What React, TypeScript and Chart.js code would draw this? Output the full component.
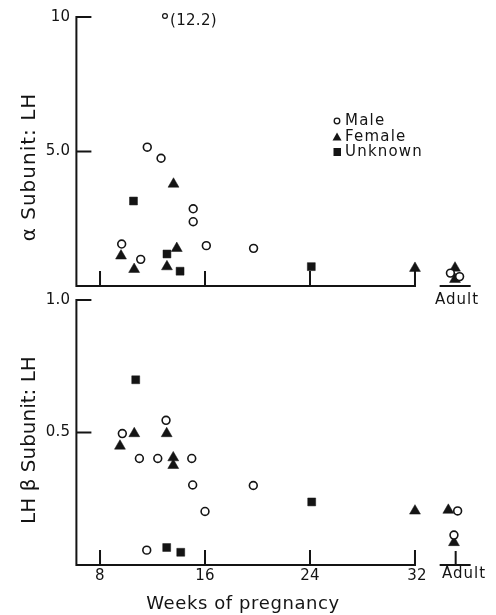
import { useEffect, useRef } from "react";
import { Chart, registerables } from "chart.js";

Chart.register(...registerables);

const FONT = '"DejaVu Sans", sans-serif';
const INK = "#141414";

// ---- shared x axis ----
const weekTicks = [8, 16, 24, 32];
const weekTickLabels = ["8", "16", "24", "32"];
const adultWeek = 35.1;
const adultLabel = "Adult";
const xTitle = "Weeks of pregnancy";
const legendLabels = ["Male", "Female", "Unknown"];

// ---- top panel: alpha subunit : LH ----
const alphaTitle = "α Subunit: LH";
const alphaTickValues = [10, 5];
const alphaTickLabels = ["10", "5.0"];
const alphaMaleWeeks = [11.6, 12.65, 15.1, 15.1, 9.65, 11.1, 16.1, 19.7, 34.7, 35.4];
const alphaMaleValues = [5.16, 4.75, 2.87, 2.39, 1.56, 0.99, 1.5, 1.4, 0.48, 0.35];
const alphaFemaleWeeks = [13.6, 9.6, 10.6, 13.85, 13.1, 32, 35.05, 35.05];
const alphaFemaleValues = [3.79, 1.12, 0.62, 1.4, 0.72, 0.66, 0.67, 0.25];
const alphaUnknownWeeks = [10.55, 13.1, 14.1, 24.1];
const alphaUnknownValues = [3.16, 1.19, 0.55, 0.72];
const offScaleWeek = 12.95;
const offScaleLabel = "(12.2)";

// ---- bottom panel: LH beta subunit : LH ----
const betaTitle = "LH β Subunit: LH";
const betaTickValues = [1, 0.5];
const betaTickLabels = ["1.0", "0.5"];
const betaMaleWeeks = [13.03, 9.7, 11.0, 12.4, 14.99, 15.06, 16.0, 11.56, 19.68, 35.25, 34.97];
const betaMaleValues = [0.546, 0.496, 0.402, 0.402, 0.402, 0.302, 0.202, 0.056, 0.3, 0.204, 0.113];
const betaFemaleWeeks = [10.61, 13.08, 9.52, 13.58, 13.58, 32, 34.54, 34.97];
const betaFemaleValues = [0.496, 0.496, 0.449, 0.405, 0.376, 0.204, 0.207, 0.085];
const betaUnknownWeeks = [10.72, 13.08, 14.15, 24.13];
const betaUnknownValues = [0.699, 0.066, 0.048, 0.238];

const toPoints = (xs: number[], ys: number[]) => xs.map((x, i) => ({ x, y: ys[i] }));

function datasets(mw: number[], mv: number[], fw: number[], fv: number[], uw: number[], uv: number[]) {
  return [
    {
      label: legendLabels[0],
      data: toPoints(mw, mv),
      pointStyle: "circle",
      pointRadius: 3.9,
      pointBorderWidth: 1.6,
      pointBackgroundColor: "#fff",
      pointBorderColor: INK,
      clip: false as const,
    },
    {
      label: legendLabels[1],
      data: toPoints(fw, fv),
      pointStyle: "triangle",
      pointRadius: 6.3,
      pointBorderWidth: 0.5,
      pointBackgroundColor: INK,
      pointBorderColor: INK,
      clip: false as const,
    },
    {
      label: legendLabels[2],
      data: toPoints(uw, uv),
      pointStyle: "rect",
      pointRadius: 5.6,
      pointBorderWidth: 0.5,
      pointBackgroundColor: INK,
      pointBorderColor: INK,
      clip: false as const,
    },
  ];
}

type Panel = {
  yMax: number;
  tickValues: number[];
  tickLabels: string[];
  title: string;
  titleX: number;
  titleY: number;
  titleSpacing: number;
  weekLabels: boolean;
  weekLabelY: number;
  adultLabelX: number;
  adultLabelY: number;
  adultTick: boolean;
  legend: boolean;
  offScale: boolean;
  xTitle: boolean;
};

function setSpacing(ctx: CanvasRenderingContext2D, px: number) {
  (ctx as any).letterSpacing = px + "px";
}

function panelPlugin(p: Panel) {
  return {
    id: "panel",
    beforeDatasetsDraw(chart: any) {
      const { ctx, chartArea: ca, scales } = chart;
      const x = scales.x;
      const y = scales.y;
      const base = y.getPixelForValue(0);
      const top = y.getPixelForValue(p.yMax);
      const left = ca.left;
      const x32 = x.getPixelForValue(32);
      const xa = x.getPixelForValue(adultWeek);
      ctx.save();
      ctx.strokeStyle = INK;
      ctx.lineWidth = 2;
      ctx.beginPath();
      ctx.moveTo(left, top - 1);
      ctx.lineTo(left, base + 1);
      ctx.moveTo(left, base);
      ctx.lineTo(x32 + 1, base);
      ctx.moveTo(xa - 16, base);
      ctx.lineTo(xa + 15, base);
      p.tickValues.forEach((v) => {
        const py = y.getPixelForValue(v);
        ctx.moveTo(left, py);
        ctx.lineTo(left + 15, py);
      });
      weekTicks.forEach((w) => {
        const px = x.getPixelForValue(w);
        ctx.moveTo(px, base);
        ctx.lineTo(px, base - 15);
      });
      if (p.adultTick) {
        ctx.moveTo(xa, base);
        ctx.lineTo(xa, base - 14);
      }
      ctx.stroke();

      ctx.fillStyle = INK;
      ctx.textBaseline = "middle";
      // y tick labels
      ctx.font = `15px ${FONT}`;
      setSpacing(ctx, 0.3);
      ctx.textAlign = "right";
      p.tickValues.forEach((v, i) => {
        ctx.fillText(p.tickLabels[i], left - 6, y.getPixelForValue(v));
      });
      // week labels
      ctx.textAlign = "center";
      if (p.weekLabels) {
        weekTicks.forEach((w, i) => {
          ctx.fillText(weekTickLabels[i], x.getPixelForValue(w) + (i === 3 ? 2 : 0), p.weekLabelY);
        });
      }
      ctx.font = `15px ${FONT}`;
      setSpacing(ctx, 1);
      ctx.fillText(adultLabel, p.adultLabelX, p.adultLabelY);

      // axis title (rotated)
      ctx.save();
      ctx.font = `20px ${FONT}`;
      setSpacing(ctx, p.titleSpacing);
      ctx.translate(p.titleX, p.titleY);
      ctx.rotate(-Math.PI / 2);
      ctx.textAlign = "center";
      ctx.fillText(p.title, 0, 0);
      ctx.restore();

      if (p.xTitle) {
        ctx.font = `18px ${FONT}`;
        setSpacing(ctx, 0.6);
        ctx.textAlign = "center";
        ctx.fillText(xTitle, 243, chart.height - 11);
      }

      if (p.offScale) {
        const ox = x.getPixelForValue(offScaleWeek);
        ctx.lineWidth = 1.2;
        ctx.beginPath();
        ctx.arc(ox, top - 1, 2.4, 0, Math.PI * 2);
        ctx.stroke();
        ctx.font = `15px ${FONT}`;
        setSpacing(ctx, 0.3);
        ctx.textAlign = "left";
        ctx.fillText(offScaleLabel, ox + 5, top + 4);
      }

      if (p.legend) {
        const lx = 337;
        const rows = [121, 137, 152];
        ctx.font = `15px ${FONT}`;
        setSpacing(ctx, 1.2);
        ctx.textAlign = "left";
        // circle
        ctx.lineWidth = 1.3;
        ctx.beginPath();
        ctx.arc(lx, rows[0], 2.8, 0, Math.PI * 2);
        ctx.stroke();
        // triangle
        ctx.beginPath();
        ctx.moveTo(lx - 4.5, rows[1] + 3.5);
        ctx.lineTo(lx + 4.5, rows[1] + 3.5);
        ctx.lineTo(lx, rows[1] - 4.5);
        ctx.closePath();
        ctx.fill();
        // square
        ctx.fillRect(lx - 3.5, rows[2] - 4, 7.5, 8);
        legendLabels.forEach((t, i) => ctx.fillText(t, lx + 8, rows[i]));
      }
      ctx.restore();
    },
  };
}

function PanelChart(props: { panel: Panel; sets: any[]; top: number; height: number; pad: any }) {
  const ref = useRef<HTMLCanvasElement | null>(null);
  useEffect(() => {
    if (!ref.current) return;
    const chart = new Chart(ref.current, {
      type: "scatter",
      data: { datasets: props.sets },
      options: {
        animation: false,
        responsive: false,
        maintainAspectRatio: false,
        events: [],
        layout: { padding: props.pad },
        scales: {
          x: { type: "linear", min: 6.2, max: 37, display: false },
          y: { type: "linear", min: 0, max: props.panel.yMax, display: false },
        },
        plugins: { legend: { display: false }, tooltip: { enabled: false }, title: { display: false } },
      },
      plugins: [panelPlugin(props.panel) as any],
    } as any);
    return () => chart.destroy();
  }, []);
  return (
    <canvas
      ref={ref}
      width={496}
      height={props.height}
      style={{ position: "absolute", left: 0, top: props.top, width: 496, height: props.height, display: "block" }}
    />
  );
}

const topPanel: Panel = {
  yMax: 10,
  tickValues: alphaTickValues,
  tickLabels: alphaTickLabels,
  title: alphaTitle,
  titleX: 30,
  titleY: 167,
  titleSpacing: 1,
  weekLabels: false,
  weekLabelY: 0,
  adultLabelX: 457,
  adultLabelY: 300,
  adultTick: false,
  legend: true,
  offScale: true,
  xTitle: false,
};

const bottomPanel: Panel = {
  yMax: 1,
  tickValues: betaTickValues,
  tickLabels: betaTickLabels,
  title: betaTitle,
  titleX: 30,
  titleY: 440 - 288,
  titleSpacing: 0,
  weekLabels: true,
  weekLabelY: 576 - 288,
  adultLabelX: 464,
  adultLabelY: 574 - 288,
  adultTick: true,
  legend: false,
  offScale: false,
  xTitle: true,
};

export default function App() {
  return (
    <div style={{ position: "absolute", left: 0, top: 0, width: 496, height: 615, background: "#fff", overflow: "hidden" }}>
      <PanelChart
        panel={topPanel}
        sets={datasets(alphaMaleWeeks, alphaMaleValues, alphaFemaleWeeks, alphaFemaleValues, alphaUnknownWeeks, alphaUnknownValues)}
        top={0}
        height={310}
        pad={{ left: 76.4, right: 15.4, top: 17, bottom: 24 }}
      />
      <PanelChart
        panel={bottomPanel}
        sets={datasets(betaMaleWeeks, betaMaleValues, betaFemaleWeeks, betaFemaleValues, betaUnknownWeeks, betaUnknownValues)}
        top={288}
        height={327}
        pad={{ left: 76.4, right: 15.4, top: 12, bottom: 50 }}
      />
    </div>
  );
}
